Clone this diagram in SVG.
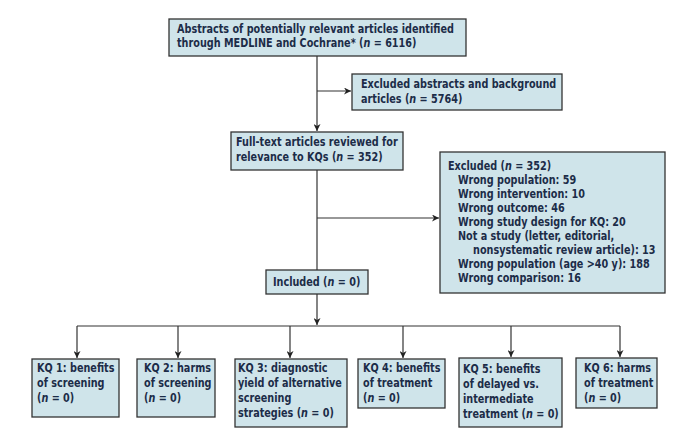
<svg xmlns="http://www.w3.org/2000/svg" width="700" height="433" viewBox="0 0 700 433">
<style>
.box{fill:#cfe4ea;stroke:#333;stroke-width:1.3}
text{font-family:"DejaVu Sans Condensed","Liberation Sans",sans-serif;font-weight:bold;font-size:12.5px;fill:#1c2c48}
.n{font-style:italic}
.ln{stroke:#333;stroke-width:1.2;fill:none}
</style>
<defs>
<marker id="ah" viewBox="0 0 10 10" refX="10" refY="5" markerWidth="7" markerHeight="7" orient="auto" markerUnits="userSpaceOnUse">
<path d="M0,0 L10,5 L0,10 L3,5 Z" fill="#222"/>
</marker>
</defs>
<rect width="700" height="433" fill="#fff"/>
<g id="connectors">
<line class="ln" x1="317" y1="56" x2="317" y2="131" marker-end="url(#ah)"/>
<line class="ln" x1="317" y1="91" x2="351" y2="91" marker-end="url(#ah)"/>
<line class="ln" x1="317" y1="170" x2="317" y2="270"/>
<line class="ln" x1="317" y1="218" x2="439" y2="218" marker-end="url(#ah)"/>
<line class="ln" x1="317" y1="294" x2="317" y2="325" marker-end="url(#ah)"/>
<line class="ln" x1="77" y1="326" x2="620" y2="326"/>
<line class="ln" x1="77" y1="326" x2="77" y2="358" marker-end="url(#ah)"/>
<line class="ln" x1="178" y1="326" x2="178" y2="358" marker-end="url(#ah)"/>
<line class="ln" x1="290" y1="326" x2="290" y2="358" marker-end="url(#ah)"/>
<line class="ln" x1="403" y1="326" x2="403" y2="358" marker-end="url(#ah)"/>
<line class="ln" x1="511" y1="326" x2="511" y2="357" marker-end="url(#ah)"/>
<line class="ln" x1="620" y1="326" x2="620" y2="357" marker-end="url(#ah)"/>
</g>
<g id="abstracts">
<rect class="box" x="169" y="19" width="297" height="37"/>
<text transform="translate(177,33) scale(0.86,1)">Abstracts of potentially relevant articles identified</text>
<text transform="translate(177,47) scale(0.86,1)">through MEDLINE and Cochrane* (<tspan class="n">n</tspan> = 6116)</text>
</g>
<g id="excluded-abstracts">
<rect class="box" x="352" y="74" width="210" height="36"/>
<text transform="translate(361,88) scale(0.86,1)">Excluded abstracts and background</text>
<text transform="translate(361,103) scale(0.86,1)">articles (<tspan class="n">n</tspan> = 5764)</text>
</g>
<g id="fulltext">
<rect class="box" x="231" y="132" width="172" height="38"/>
<text transform="translate(236,146) scale(0.86,1)">Full-text articles reviewed for</text>
<text transform="translate(236,161) scale(0.86,1)">relevance to KQs (<tspan class="n">n</tspan> = 352)</text>
</g>
<g id="excluded">
<rect class="box" x="440" y="152" width="225" height="141"/>
<text transform="translate(448,170) scale(0.86,1)">Excluded (<tspan class="n">n</tspan> = 352)</text>
<text transform="translate(458,184) scale(0.86,1)">Wrong population: 59</text>
<text transform="translate(458,198) scale(0.86,1)">Wrong intervention: 10</text>
<text transform="translate(458,212) scale(0.86,1)">Wrong outcome: 46</text>
<text transform="translate(458,226) scale(0.86,1)">Wrong study design for KQ: 20</text>
<text transform="translate(458,240) scale(0.86,1)">Not a study (letter, editorial,</text>
<text transform="translate(473,254) scale(0.86,1)">nonsystematic review article): 13</text>
<text transform="translate(458,268) scale(0.86,1)">Wrong population (age &gt;40 y): 188</text>
<text transform="translate(458,282) scale(0.86,1)">Wrong comparison: 16</text>
</g>
<g id="included">
<rect class="box" x="266" y="270" width="102" height="24"/>
<text transform="translate(273,286) scale(0.86,1)">Included (<tspan class="n">n</tspan> = 0)</text>
</g>
<g id="kq1">
<rect class="box" x="32" y="359" width="87" height="58"/>
<text transform="translate(37,372) scale(0.86,1)">KQ 1: benefits</text>
<text transform="translate(37,387) scale(0.86,1)">of screening</text>
<text transform="translate(37,402) scale(0.86,1)">(<tspan class="n">n</tspan> = 0)</text>
</g>
<g id="kq2">
<rect class="box" x="137" y="359" width="78" height="58"/>
<text transform="translate(144,372) scale(0.86,1)">KQ 2: harms</text>
<text transform="translate(144,387) scale(0.86,1)">of screening</text>
<text transform="translate(144,402) scale(0.86,1)">(<tspan class="n">n</tspan> = 0)</text>
</g>
<g id="kq3">
<rect class="box" x="235" y="359" width="112" height="68"/>
<text transform="translate(238,372) scale(0.86,1)">KQ 3: diagnostic</text>
<text transform="translate(238,387) scale(0.86,1)">yield of alternative</text>
<text transform="translate(238,402) scale(0.86,1)">screening</text>
<text transform="translate(238,417) scale(0.86,1)">strategies (<tspan class="n">n</tspan> = 0)</text>
</g>
<g id="kq4">
<rect class="box" x="358" y="359" width="87" height="49"/>
<text transform="translate(363,372) scale(0.86,1)">KQ 4: benefits</text>
<text transform="translate(363,387) scale(0.86,1)">of treatment</text>
<text transform="translate(363,402) scale(0.86,1)">(<tspan class="n">n</tspan> = 0)</text>
</g>
<g id="kq5">
<rect class="box" x="459" y="358" width="103" height="69"/>
<text transform="translate(463,373) scale(0.86,1)">KQ 5: benefits</text>
<text transform="translate(463,388) scale(0.86,1)">of delayed vs.</text>
<text transform="translate(463,403) scale(0.86,1)">intermediate</text>
<text transform="translate(463,418) scale(0.86,1)">treatment (<tspan class="n">n</tspan> = 0)</text>
</g>
<g id="kq6">
<rect class="box" x="576" y="358" width="81" height="50"/>
<text transform="translate(584,372) scale(0.86,1)">KQ 6: harms</text>
<text transform="translate(584,387) scale(0.86,1)">of treatment</text>
<text transform="translate(584,402) scale(0.86,1)">(<tspan class="n">n</tspan> = 0)</text>
</g>
</svg>
